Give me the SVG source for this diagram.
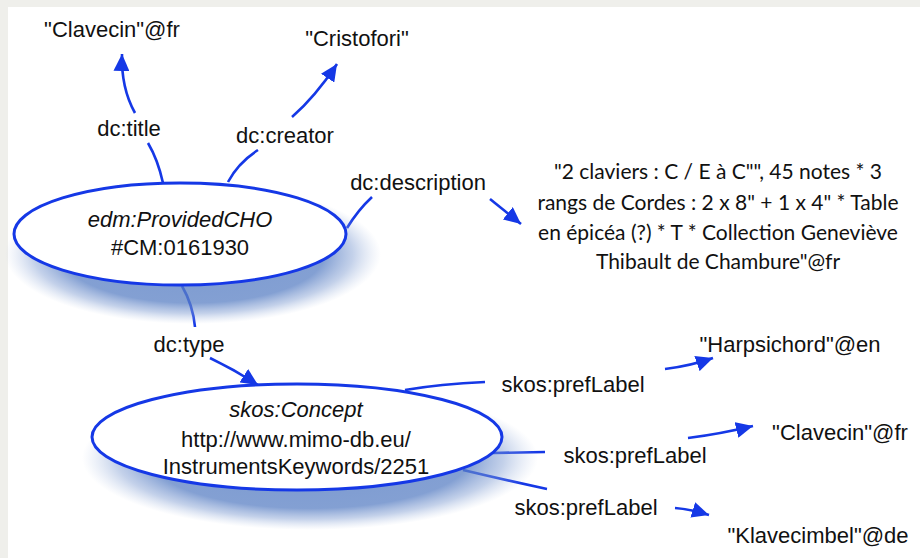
<svg xmlns="http://www.w3.org/2000/svg" width="920" height="558" viewBox="0 0 920 558">
<style>
.lbl{font-family:"Liberation Sans",Arial,sans-serif;font-size:22px;fill:#111;}
.it{font-style:italic;}
.desc{font-family:Lato,"Open Sans",sans-serif;font-size:21px;fill:#111;}
.edge{fill:none;stroke:#1538e6;stroke-width:2.6;}
.node{fill:#fff;stroke:#1538e6;stroke-width:3;}
.shadow{fill:url(#shg);}
</style>
<defs>
<marker id="arr" markerUnits="userSpaceOnUse" markerWidth="18" markerHeight="16" refX="17" refY="8" orient="auto">
<path d="M0,0 L17,8 L0,16 z" fill="#1538e6"/>
</marker>
<radialGradient id="shg" cx="0.5" cy="0.5" r="0.5">
<stop offset="0" stop-color="#5a80c4" stop-opacity="0.8"/>
<stop offset="0.7" stop-color="#5a80c4" stop-opacity="0.75"/>
<stop offset="0.85" stop-color="#7b99d0" stop-opacity="0.45"/>
<stop offset="1" stop-color="#a8bce0" stop-opacity="0"/>
</radialGradient>
</defs>
<rect x="0" y="0" width="920" height="558" fill="#efefeb"/>
<rect x="8" y="7" width="912" height="551" fill="#ffffff"/>

<g id="connectors">
<path class="edge" d="M163,183 Q158,160 148,143"/>
<path class="edge" d="M135,113 Q121,88 122,54" marker-end="url(#arr)"/>
<path class="edge" d="M228,182 Q238,163 258,150"/>
<path class="edge" d="M292,117 Q315,97 337,64" marker-end="url(#arr)"/>
<path class="edge" d="M347,228 Q358,210 372,197"/>
<path class="edge" d="M490,199 L521,224" marker-end="url(#arr)"/>
<path class="edge" d="M182,286 Q193,305 195,327"/>
<path class="edge" d="M210,358 Q235,370 258,385" marker-end="url(#arr)"/>
<path class="edge" d="M405,390 Q440,384 485,382"/>
<path class="edge" d="M665,369 Q690,366 713,358" marker-end="url(#arr)"/>
<path class="edge" d="M493,453 L545,452"/>
<path class="edge" d="M688,438 Q720,434 753,426" marker-end="url(#arr)"/>
<path class="edge" d="M463,470 Q505,480 547,489"/>
<path class="edge" d="M675,508 Q690,509 709,515" marker-end="url(#arr)"/>
</g>

<g id="cho">
<ellipse class="shadow" cx="193" cy="254" rx="188" ry="70"/>
<ellipse class="node" cx="180" cy="234" rx="166" ry="51"/>
<text class="lbl it" x="180" y="227" text-anchor="middle">edm:ProvidedCHO</text>
<text class="lbl" x="180" y="255" text-anchor="middle">#CM:0161930</text>
</g>

<g id="concept">
<ellipse class="shadow" cx="310" cy="458" rx="228" ry="72"/>
<ellipse class="node" cx="297" cy="437" rx="205" ry="53"/>
<text class="lbl it" x="296" y="417" text-anchor="middle">skos:Concept</text>
<text class="lbl" x="296" y="447" text-anchor="middle">http://www.mimo-db.eu/</text>
<text class="lbl" x="296" y="474" text-anchor="middle">InstrumentsKeywords/2251</text>
</g>

<g id="lit-title"><text class="lbl" x="112" y="37" text-anchor="middle">"Clavecin"@fr</text></g>
<g id="lit-creator"><text class="lbl" x="357" y="46" text-anchor="middle">"Cristofori"</text></g>
<g id="lit-desc">
<text class="desc" x="718" y="179" text-anchor="middle">"2 claviers : C / E à C"", 45 notes * 3</text>
<text class="desc" x="718" y="210" text-anchor="middle">rangs de Cordes : 2 x 8" + 1 x 4" * Table</text>
<text class="desc" x="718" y="240" text-anchor="middle">en épicéa (?) * T * Collection Geneviève</text>
<text class="desc" x="718" y="269" text-anchor="middle">Thibault de Chambure"@fr</text>
</g>
<g id="lit-en"><text class="lbl" x="790" y="352" text-anchor="middle">"Harpsichord"@en</text></g>
<g id="lit-fr"><text class="lbl" x="840" y="440" text-anchor="middle">"Clavecin"@fr</text></g>
<g id="lit-de"><text class="lbl" x="818" y="543" text-anchor="middle">"Klavecimbel"@de</text></g>

<g id="labels">
<text class="lbl" x="129" y="136" text-anchor="middle">dc:title</text>
<text class="lbl" x="285" y="143" text-anchor="middle">dc:creator</text>
<text class="lbl" x="418" y="190" text-anchor="middle">dc:description</text>
<text class="lbl" x="189" y="352" text-anchor="middle">dc:type</text>
<text class="lbl" x="573" y="392" text-anchor="middle">skos:prefLabel</text>
<text class="lbl" x="635" y="463" text-anchor="middle">skos:prefLabel</text>
<text class="lbl" x="586" y="515" text-anchor="middle">skos:prefLabel</text>
</g>
</svg>
